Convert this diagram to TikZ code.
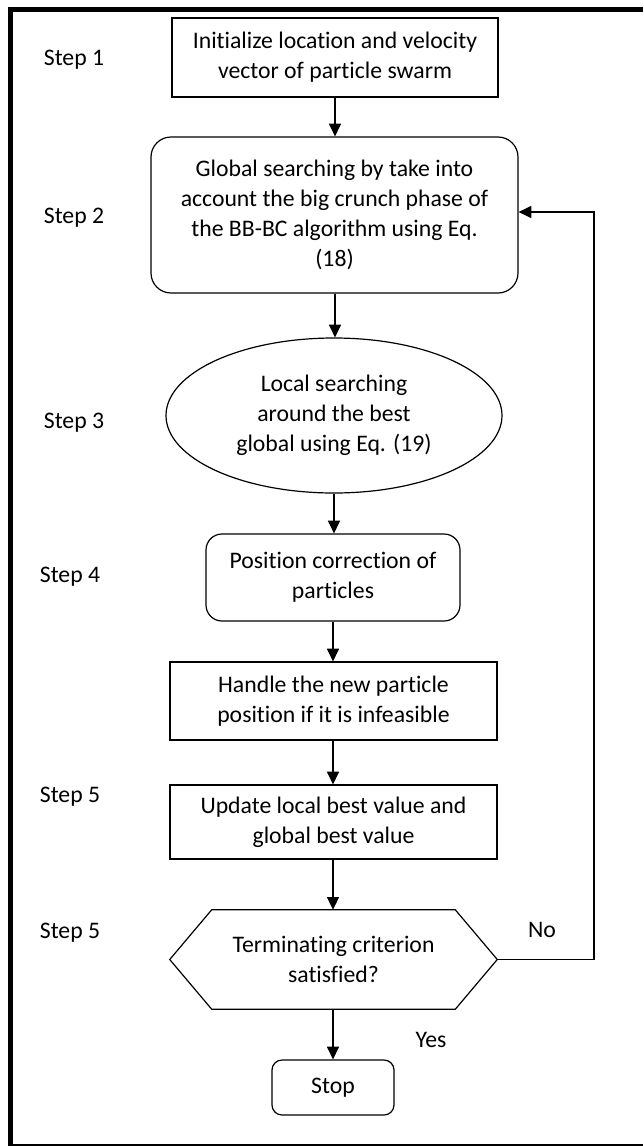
\documentclass[tikz,border=0pt]{standalone}
\usepackage{fontspec}
\setmainfont{Carlito}[Ligatures=NoCommon]
\usetikzlibrary{shapes.geometric,arrows.meta}
\begin{document}
\begin{tikzpicture}[x=0.75pt,y=-0.75pt,
  every node/.style={font=\fontsize{17.8}{22.4}\selectfont},
  box/.style={draw, line width=0.9pt, align=center, inner sep=0pt},
  rbox/.style={box, rounded corners=#1},
  lbl/.style={inner sep=0pt},
  flow/.style={line width=0.9pt, -{Triangle[length=9.5pt,width=9pt]}}
]
\useasboundingbox (0,0) rectangle (643,1146);

% page frame
\draw[line width=3.8pt, line join=miter] (10.5,1146) -- (10.5,9.5) -- (643,9.5);
\draw[line width=1.1pt] (9,1144.8) -- (643,1144.8);

% flow chart blocks
\node[box, minimum width=244.5pt, minimum height=59.25pt] (init) at (335,57.5)
  {Initialize location and velocity\\vector of particle swarm};
\node[rbox=15pt, minimum width=275.25pt, minimum height=117pt] (glob) at (334.5,215)
  {Global searching by take into\\account the big crunch phase of\\the BB-BC algorithm using Eq.\\(18)};
\node[box, ellipse, minimum width=252pt, minimum height=116.25pt] (loc) at (334,415.5)
  {Local searching\\around the best\\global using Eq. (19)};
\node[rbox=12pt, minimum width=190.5pt, minimum height=65.25pt] (corr) at (333,577.5)
  {Position correction of\\particles};
\node[box, minimum width=245.25pt, minimum height=58.5pt] (hand) at (333.5,701)
  {Handle the new particle\\position if it is infeasible};
\node[box, minimum width=245.25pt, minimum height=55.5pt] (upd) at (333.5,822)
  {Update local best value and\\global best value};
\node[align=center, inner sep=0pt, minimum width=245.25pt, minimum height=74.25pt] (term) at (333.5,959.5)
  {Terminating criterion\\satisfied?};
\draw[line width=0.9pt] (term.west) -- ([xshift=31.5pt]term.north west)
  -- ([xshift=-31.5pt]term.north east) -- (term.east)
  -- ([xshift=-31.5pt]term.south east) -- ([xshift=31.5pt]term.south west) -- cycle;
\node[rbox=7.5pt, minimum width=91.5pt, minimum height=41.25pt] (stop) at (333,1087.5) {Stop};

% step labels
\node[lbl] (s1) at (74,60) {Step 1};
\node[lbl] (s2) at (74,218) {Step 2};
\node[lbl] (s3) at (74,423) {Step 3};
\node[lbl] (s4) at (70,577) {Step 4};
\node[lbl] (s5) at (70,797) {Step 5};
\node[lbl] (s6) at (70,933) {Step 5};

% connectors
\draw[flow] (init.south) -- (init.south |- glob.north);
\draw[flow] (glob.south -| init.south) -- (init.south |- loc.north);
\draw[flow] (loc.south) -- (loc.south |- corr.north);
\draw[flow] (corr.south) -- (corr.south |- hand.north);
\draw[flow] (hand.south -| corr.south) -- (corr.south |- upd.north);
\draw[flow] (upd.south -| corr.south) -- (corr.south |- term.north);
\draw[flow] (term.south -| corr.south) -- (corr.south |- stop.north);

\coordinate (fbb) at (594,959.5);
\coordinate (fbt) at (594,212);
\draw[flow] (term.east) -- (fbb) -- (fbt) -- (fbt -| glob.east);

\node[lbl] (no) at (542,930) {No};
\node[lbl] (yes) at (431,1040) {Yes};
\end{tikzpicture}
\end{document}
